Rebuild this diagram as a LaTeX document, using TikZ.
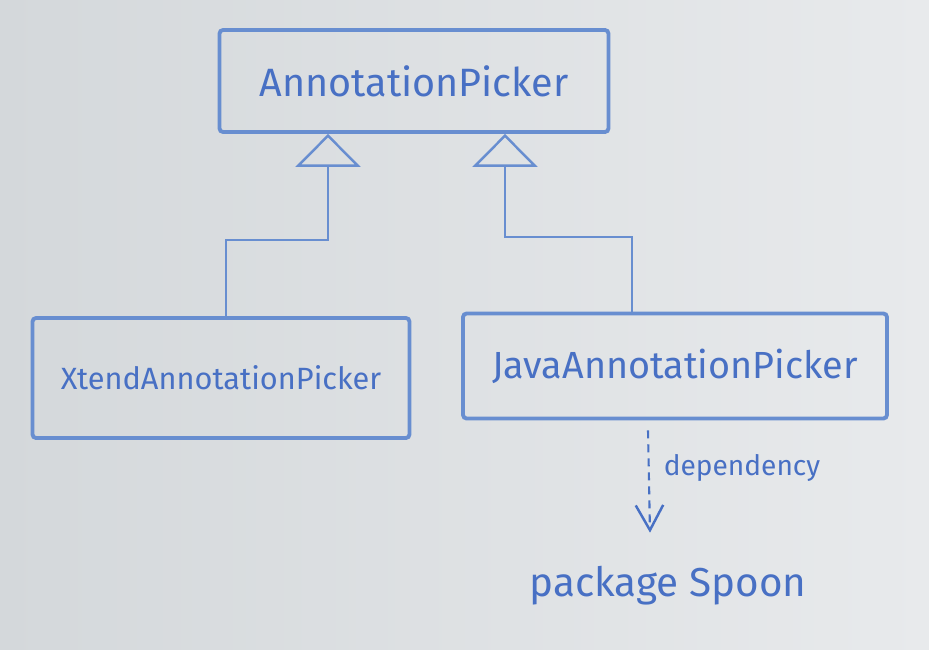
\documentclass[tikz,border=0pt]{standalone}
\usepackage{fontspec}
\setmainfont{Fira Sans}
\usepackage{xcolor}
\usetikzlibrary{arrows.meta,positioning}
\definecolor{marker}{RGB}{72,112,196}
\definecolor{markerlight}{RGB}{104,142,208}
\definecolor{boardleft}{RGB}{212,216,219}
\definecolor{boardright}{RGB}{232,234,236}
\tikzset{>={Stealth[length=2.5mm]}}

\begin{document}
\begin{tikzpicture}[x=0.02cm, y=-0.02cm,
    classbox/.style={draw=markerlight, line width=2.2pt, rounded corners=2pt,
      text=marker, inner sep=0pt},
    inherit/.style={draw=markerlight, line width=1.4pt,
      -{Triangle[open,length=0.66cm,width=1.3cm,line width=1.4pt]}},
    dep/.style={draw=marker, line width=1.2pt, dash pattern=on 0.16cm off 0.12cm,
      -{Straight Barb[length=0.5cm,width=0.55cm,line width=1.4pt]}},
    scribble/.style={text=marker, inner sep=2pt}]
  % Whiteboard
  \shade[left color=boardleft, right color=boardright] (0,0) rectangle (929,649);
  \useasboundingbox (0,0) rectangle (929,649);

  % Classes
  \node[classbox, minimum width=7.78cm, minimum height=2.04cm,
    font=\fontsize{22.5}{26}\selectfont] (top) at (414,81) {AnnotationPicker};
  \node[classbox, minimum width=7.54cm, minimum height=2.4cm,
    font=\fontsize{17.5}{21}\selectfont] (xtend) at (221,378) {XtendAnnotationPicker};
  \node[classbox, minimum width=8.48cm, minimum height=2.1cm,
    font=\fontsize{21.5}{25}\selectfont] (java) at (675,366) {JavaAnnotationPicker};

  % Package
  \node[scribble, font=\fontsize{23}{27}\selectfont] (spoon) at (668,586) {package Spoon};

  % Inheritance
  \coordinate (lbend) at (328,240);
  \coordinate (rbend) at (505,237);
  \draw[inherit] ([xshift=0.1cm]xtend.north) |- (lbend) -- (lbend |- top.south);
  \draw[inherit] ([xshift=-0.86cm]java.north) |- (rbend) -- (rbend |- top.south);

  % Dependency
  \draw[dep] ([xshift=-0.54cm, yshift=-0.2cm]java.south)
    -- ([xshift=-0.36cm, yshift=0.6cm]spoon.north);
  \node[scribble, font=\fontsize{16}{20}\selectfont] (deplabel) at (742,468) {dependency};
\end{tikzpicture}
\end{document}
